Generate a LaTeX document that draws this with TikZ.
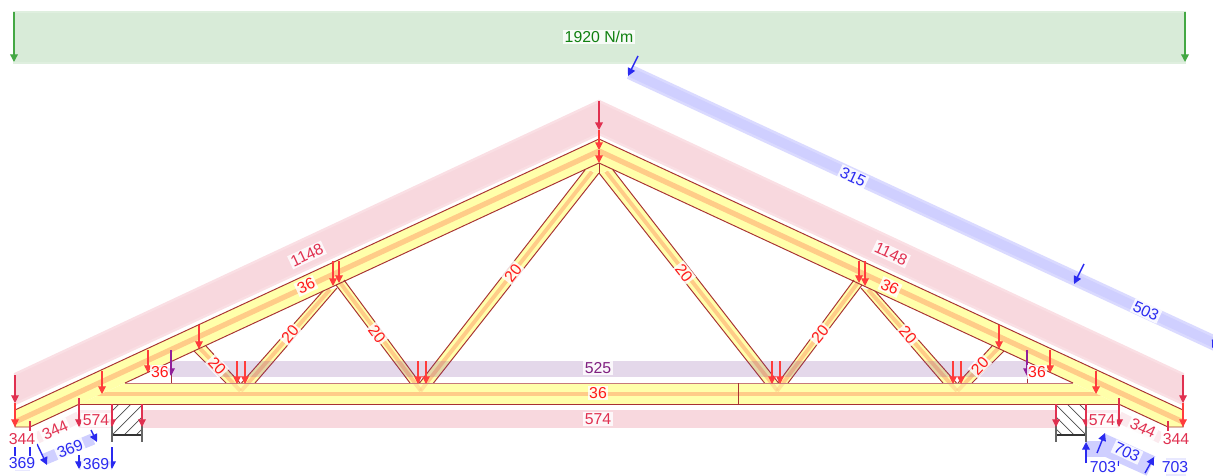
\documentclass[tikz,border=0pt]{standalone}
\usepackage{fontspec}
\setmainfont{Liberation Sans}
\usetikzlibrary{arrows.meta}
\definecolor{cGreenBand}{HTML}{D8EBD8}
\definecolor{cGreenEdge}{HTML}{DFEFDF}
\definecolor{cGreen}{HTML}{44A844}
\definecolor{cGreenText}{HTML}{108010}
\definecolor{cPinkBand}{HTML}{F8D8DE}
\definecolor{cPinkEdge}{HTML}{FADFE4}
\definecolor{cPinkFaint}{HTML}{FBEAEE}
\definecolor{cBlueBand}{HTML}{CFCFFF}
\definecolor{cBlueEdge}{HTML}{DADAFF}
\definecolor{cBlueFaint}{HTML}{E8E8FF}
\definecolor{cPurpleBand}{HTML}{7A3A96}
\definecolor{cPurple}{HTML}{90209A}
\definecolor{cPurpleText}{HTML}{802080}
\definecolor{cCrimson}{HTML}{E03050}
\definecolor{cRed}{HTML}{FF3C3C}
\definecolor{cBlue}{HTML}{2A2AF0}
\definecolor{cYellow}{HTML}{FFFFAA}
\definecolor{cStripe}{HTML}{FFCC88}
\definecolor{cEdge}{HTML}{A83232}
\tikzset{
  x=0.02cm,y=-0.02cm,
  larrow/.style={line width=0.6pt,-{Triangle[length=4.4pt,width=4.4pt]}},
  redarrow/.style={larrow,draw=cRed,color=cRed},
  crimarrow/.style={larrow,draw=cCrimson,color=cCrimson},
  bluarrow/.style={larrow,line width=0.8pt,draw=cBlue,color=cBlue},
  purparrow/.style={larrow,draw=cPurple,color=cPurple},
  greenarrow/.style={larrow,line width=0.8pt,draw=cGreen,color=cGreen},
  member/.style={fill=cYellow},
  stripe/.style={draw=cStripe,line width=2.2pt},
  edgeline/.style={draw=cEdge,line width=0.55pt},
  lab/.style={font=\fontsize{9}{10}\selectfont,inner sep=0.9pt,fill=white,fill opacity=0.82,text opacity=1},
  redlab/.style={lab,text=red!90!white},
  crimlab/.style={lab,text=cCrimson},
  blulab/.style={lab,text=cBlue},
}
\newcommand{\webpart}[5]{%
  \fill[member] #1 -- #2 -- #3 -- #4 -- cycle;
  \draw[edgeline] #1 -- #2 #3 -- #4;
  \draw[stripe] #5;
}
\newcommand{\halftruss}{%
  % top chord
  \fill[member] (15,410) -- (599,139) -- (599,163) -- (30,427) -- (15,427) -- cycle;
  \begin{scope}
    \clip (15,410) -- (599,139) -- (599,163) -- (30,427) -- (15,427) -- cycle;
    \draw[stripe,line width=3pt] (10,424.3) -- (599,151);
  \end{scope}
  % webs
  \webpart{(226,383)}{(194,351)}{(206,346)}{(240,383)}{(233,383) -- (200,348.5)}
  \webpart{(241.5,383)}{(323,291)}{(337,288)}{(255,383)}{(248.2,383) -- (330,289.5)}
  \webpart{(410,383)}{(336,285)}{(344,280)}{(420,383)}{(415,383) -- (340,282.5)}
  \webpart{(419.5,383)}{(585,170)}{(599,173)}{(433.5,383)}{(426.5,383) -- (592,171.5)}
  \fill[member] (599,163) -- (585,169.5) -- (599,173) -- cycle;
  \draw[edgeline] (15,410) -- (599,139);
  \draw[edgeline] (15,410) -- (15,427) -- (30,427) -- (79.5,404);
  \draw[edgeline] (125,383) -- (599,163);
  \draw[edgeline] (171,361) -- (171,383);
  \draw[edgeline] (599,163) -- (599,173);
  % support
  \begin{scope}
    \clip (112,404) rectangle (142,435);
    \foreach \hx in {88,100,112,124,136}
      \draw[line width=0.4pt,draw=black!70] (\hx,435) -- (\hx+31,404);
  \end{scope}
  \draw[line width=0.6pt,draw=black!80] (112,435) -- (142,435);
  \draw[line width=0.6pt,draw=black!60] (112,404) -- (112,442);
  \draw[line width=0.6pt,draw=black!60] (142,404) -- (142,442);
}
\newcommand{\webfade}{%
  \draw[stripe,opacity=0.55] (233,383) -- (240.5,391);
  \draw[stripe,opacity=0.55] (248.2,383) -- (241,391);
  \draw[stripe,opacity=0.55] (415,383) -- (421,391);
  \draw[stripe,opacity=0.55] (426.5,383) -- (420.5,391);
}
\newcommand{\halfarrows}{%
  \draw[crimarrow] (15,375) -- (15,403);
  \draw[redarrow] (15,403) -- (15,427);
  \draw[line width=0.6pt,draw=cCrimson] (30,421) -- (30,431);
  \draw[crimarrow] (79,398) -- (79,427);
  \draw[crimarrow] (112,404) -- (112,427);
  \draw[crimarrow] (142,404) -- (142,427);
  \draw[redarrow] (102,371) -- (102,394);
  \draw[redarrow] (148,350) -- (148,373);
  \draw[purparrow] (171,350) -- (171,376);
  \draw[redarrow] (199,325) -- (199,349);
  \draw[redarrow] (237,361) -- (237,384);
  \draw[redarrow] (245,361) -- (245,384);
  \draw[redarrow] (333,261) -- (333,286);
  \draw[redarrow] (339,261) -- (339,283);
  \draw[redarrow] (418,361) -- (418,384);
  \draw[redarrow] (426,361) -- (426,384);
}
\begin{document}
\begin{tikzpicture}
\useasboundingbox (0,0) rectangle (1213,476);
\clip (0,0) rectangle (1213,476);
% ---- load bands
\fill[cGreenBand] (14,12) rectangle (1185,63);
\draw[cGreenEdge,line width=0.8pt] (14,12) rectangle (1185,63);
\fill[cPinkBand] (15,374) -- (599,101) -- (1183,374) -- (1183,404) -- (599,134) -- (15,404) -- cycle;
\draw[cPinkEdge,line width=1.4pt] (15,374) -- (599,101) -- (1183,374) -- (1183,404) -- (599,134) -- (15,404) -- cycle;
\draw[cBlueEdge,line width=8.4pt] (630,72) -- (1240,355);
\draw[cBlueBand,line width=5.4pt] (630,72) -- (1240,355);
\fill[cPinkBand] (142,410) rectangle (1056,428);
\fill[cPinkFaint] (79,410) rectangle (112,428);
\fill[cPinkFaint] (1086,410) rectangle (1119,428);
\draw[cPinkFaint,line width=6.5pt] (37,438) -- (79,417);
\draw[cPinkFaint,line width=6.5pt] (1161,438) -- (1119,417);
\draw[cBlueBand,line width=6.5pt] (45,459) -- (93,439);
\fill[cBlueFaint] (79,458) rectangle (112,470);
\fill[cBlueFaint] (15,456) rectangle (30,471);
\draw[cBlueBand,line width=12pt] (1100,443) -- (1151,466);
\fill[cBlueBand] (1086,441) rectangle (1106,457);
\fill[cBlueFaint] (1166,458) rectangle (1186,476);
% ---- truss members
\halftruss
\begin{scope}[shift={(1198,0)},xscale=-1]
  \halftruss
\end{scope}
% bottom chord
\fill[member] (79.5,404) -- (125,383) -- (1073,383) -- (1118.5,404) -- cycle;
\begin{scope}
  \clip (79.5,404) -- (125,383) -- (1073,383) -- (1118.5,404) -- cycle;
  \draw[stripe,line width=2.8pt] (60,394) -- (1140,394);
\end{scope}
\webfade
\begin{scope}[shift={(1198,0)},xscale=-1]
  \webfade
\end{scope}
\draw[edgeline,draw=cEdge!65!white] (125,383) -- (1073,383);
\draw[edgeline] (79.5,404) -- (1118.5,404);
\draw[edgeline] (738,383) -- (738,404);
% purple band over the members
\fill[cPurpleBand,opacity=0.2] (171,361) rectangle (1027,377);
% ---- arrows
\halfarrows
\begin{scope}[shift={(1198,0)},xscale=-1]
  \halfarrows
\end{scope}
\draw[greenarrow] (14,12) -- (14,62);
\draw[greenarrow] (1185,12) -- (1185,62);
\draw[crimarrow,line width=0.9pt] (599,101) -- (599,130);
\draw[redarrow] (599,130) -- (599,150);
\draw[redarrow] (599,150) -- (599,163);
\draw[bluarrow] (638,56) -- (628,76);
\draw[bluarrow] (1084,264) -- (1074,284);
\draw[bluarrow] (1224,325) -- (1212,348);
\draw[bluarrow] (37,444) -- (47,465);
\draw[bluarrow] (91,430) -- (97,442);
\draw[bluarrow] (79,455) -- (79,469);
\draw[bluarrow] (112,447) -- (112,469);
\draw[line width=0.6pt,draw=cBlue] (15,447) -- (15,456);
\draw[line width=0.6pt,draw=cBlue] (30,447) -- (30,456);
\draw[bluarrow] (1086,463) -- (1086,442);
\draw[bluarrow] (1097,453) -- (1105,433);
\draw[bluarrow] (1145,473) -- (1154,457);
\draw[line width=0.6pt,draw=cBlue] (1118,461) -- (1118,466);
% ---- labels
\node[lab,text=cGreenText] (wind) at (599,37) {1920 N/m};
\node[blulab,rotate=-25] (b315) at (853,177) {315};
\node[blulab,rotate=-25] (b503) at (1146,311) {503};
\node[crimlab,rotate=25] (p1148l) at (307,255) {1148};
\node[crimlab,rotate=-25] (p1148r) at (891,254) {1148};
\node[redlab,rotate=25] (c36l) at (306,286) {36};
\node[redlab,rotate=-25] (c36r) at (890,287) {36};
\node[redlab,rotate=50] (w20a) at (290,334) {20};
\node[redlab,rotate=-53] (w20b) at (377,334) {20};
\node[redlab,rotate=52] (w20c) at (513,273) {20};
\node[redlab,rotate=-52] (w20d) at (684,273) {20};
\node[redlab,rotate=50] (w20e) at (820,334) {20};
\node[redlab,rotate=-50] (w20f) at (908,335) {20};
\node[redlab,rotate=-47] (w20g) at (217,366) {20};
\node[redlab,rotate=47] (w20h) at (980,366) {20};
\node[redlab] (c36a) at (160,372) {36};
\node[redlab] (c36b) at (1037,372) {36};
\node[redlab] (c36c) at (598,393) {36};
\node[lab,text=cPurpleText] (m525) at (598,368) {525};
\node[crimlab] (p574c) at (598,419) {574};
\node[crimlab] (p574l) at (96,420) {574};
\node[crimlab] (p574r) at (1102,420) {574};
\node[crimlab,rotate=25] (p344a) at (55,430) {344};
\node[crimlab,rotate=-25] (p344b) at (1143,428) {344};
\node[crimlab] (p344c) at (22,439) {344};
\node[crimlab] (p344d) at (1176,439) {344};
\node[blulab] (b369a) at (22,463) {369};
\node[blulab,rotate=22] (b369b) at (70,449) {369};
\node[blulab] (b369c) at (96,464) {369};
\node[blulab,rotate=-25] (b703a) at (1127,452) {703};
\node[blulab] (b703b) at (1103,467) {703};
\node[blulab] (b703c) at (1175,467) {703};
\end{tikzpicture}
\end{document}
